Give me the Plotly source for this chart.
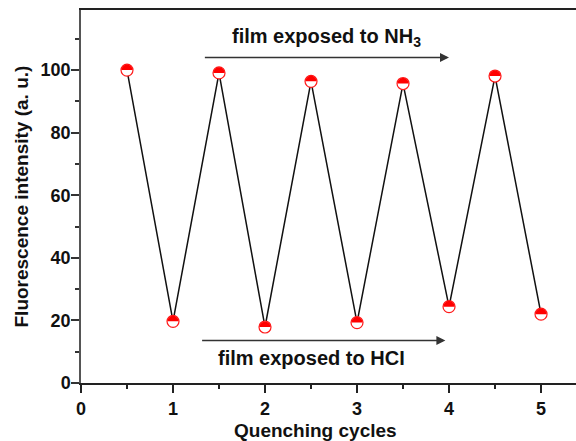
import plotly.graph_objects as go

cycles = [0.5, 1.0, 1.5, 2.0, 2.5, 3.0, 3.5, 4.0, 4.5, 5.0]
intensity = [100.0, 19.7, 99.1, 17.9, 96.4, 19.3, 95.7, 24.4, 98.1, 22.0]

x_ticks = [0, 1, 2, 3, 4, 5]
y_ticks = [0, 20, 40, 60, 80, 100]

FONT = "Arial, 'Liberation Sans', sans-serif"

fig = go.Figure()
fig.add_trace(go.Scatter(
    x=cycles, y=intensity, mode="lines+markers",
    line=dict(color="#111111", width=1.5),
    marker=dict(size=12, color="white", line=dict(color="#ff1a1a", width=1.2)),
    showlegend=False, hoverinfo="skip",
))

# top half of each marker filled red
r = 5.6
k = 0.5523 * r
half_path = (f"M {-r},0 C {-r},{k} {-k},{r} 0,{r} "
             f"C {k},{r} {r},{k} {r},0 Z")
shapes = []
for xv, yv in zip(cycles, intensity):
    shapes.append(dict(type="path", xref="x", yref="y",
                       xsizemode="pixel", ysizemode="pixel",
                       xanchor=xv, yanchor=yv, path=half_path,
                       fillcolor="#ff0000", line=dict(width=0), layer="above"))

annotations = [
    dict(x=4.0, y=104, ax=1.33, ay=104, xref="x", yref="y", axref="x", ayref="y",
         text="", showarrow=True, arrowhead=2, arrowsize=1.2, arrowwidth=1.5,
         arrowcolor="#333333"),
    dict(x=3.96, y=13.6, ax=1.30, ay=13.6, xref="x", yref="y", axref="x", ayref="y",
         text="", showarrow=True, arrowhead=2, arrowsize=1.2, arrowwidth=1.5,
         arrowcolor="#333333"),
    dict(x=2.67, y=110.3, xref="x", yref="y", showarrow=False,
         text="film exposed to NH<sub>3</sub>",
         font=dict(family=FONT, size=20, color="#111111", weight="bold")),
    dict(x=2.51, y=8.0, xref="x", yref="y", showarrow=False,
         text="film exposed to HCI",
         font=dict(family=FONT, size=20, color="#111111", weight="bold")),
    dict(x=2.55, y=0, xref="x", yref="paper", yanchor="middle", yshift=-47,
         showarrow=False, text="Quenching cycles",
         font=dict(family=FONT, size=19, color="#111111", weight="bold")),
    dict(x=0, y=0.5, xref="paper", yref="paper", xanchor="center", xshift=-60,
         textangle=-90, showarrow=False, text="Fluorescence intensity (a. u.)",
         font=dict(family=FONT, size=19, color="#111111", weight="bold")),
]

fig.update_layout(
    width=576, height=441,
    margin=dict(l=81, r=0, t=10, b=58),
    paper_bgcolor="white", plot_bgcolor="white",
    shapes=shapes, annotations=annotations,
    font=dict(family=FONT, color="#111111"),
    xaxis=dict(range=[0, 5.38], tickvals=x_ticks, ticktext=[str(v) for v in x_ticks],
               showgrid=False, zeroline=False, showline=True, linecolor="#222222",
               linewidth=2, mirror=True, ticks="outside", ticklen=8, tickwidth=1.5,
               tickcolor="#222222",
               minor=dict(dtick=0.5, tick0=0, ticks="outside", ticklen=4, tickwidth=1.5,
                          tickcolor="#222222"),
               tickfont=dict(family=FONT, size=18, color="#111111", weight="bold")),
    yaxis=dict(range=[0, 119.2], tickvals=y_ticks, ticktext=[str(v) for v in y_ticks],
               showgrid=False, zeroline=False, showline=True, linecolor="#555555",
               linewidth=1.5, ticks="outside", ticklen=8, tickwidth=1.5,
               tickcolor="#333333", ticklabelstandoff=-3,
               minor=dict(dtick=10, tick0=0, ticks="outside", ticklen=4, tickwidth=1.5,
                          tickcolor="#333333"),
               tickfont=dict(family=FONT, size=18, color="#111111", weight="bold")),
)

fig.write_html("out.html", config={"displayModeBar": False},
               post_script="document.body.style.margin='0';")
